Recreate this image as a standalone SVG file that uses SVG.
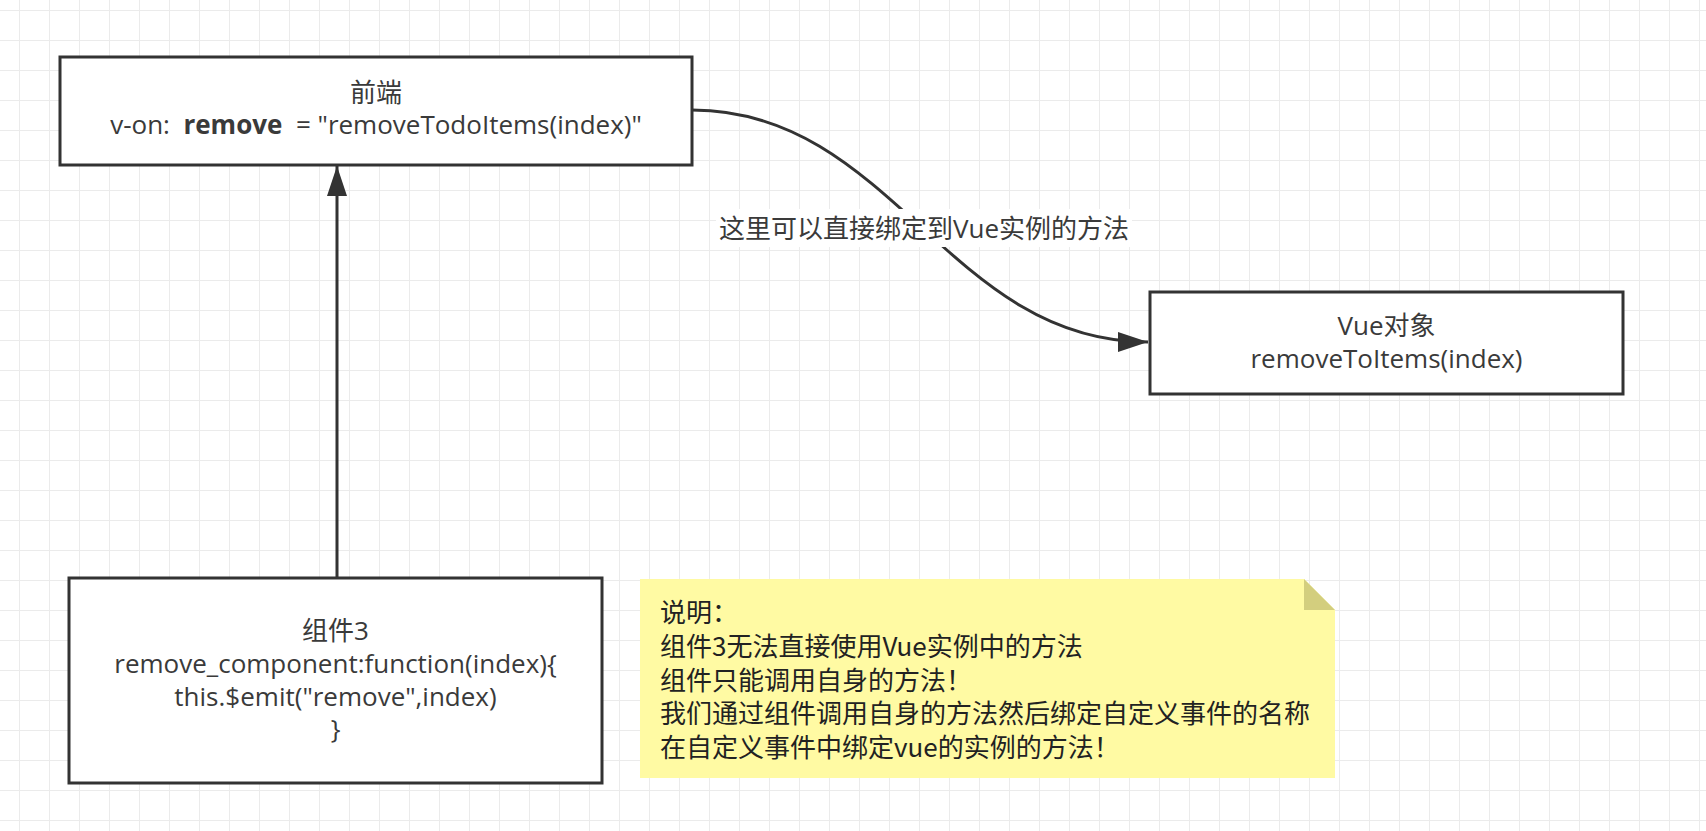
<svg xmlns="http://www.w3.org/2000/svg" width="1706" height="831" viewBox="0 0 1706 831">
<defs>
<pattern id="grid" x="19" y="10" width="30" height="30" patternUnits="userSpaceOnUse">
<path d="M0,0 H30 M0,0 V30" fill="none" stroke="#ebebeb" stroke-width="2"/>
</pattern>
<marker id="arr" markerUnits="userSpaceOnUse" viewBox="0 0 30 20" refX="30" refY="10" markerWidth="30" markerHeight="20" orient="auto">
<path d="M0,0 L30,10 L0,20 z" fill="#333"/>
</marker>
<style>
.box{fill:#fff;stroke:#333;stroke-width:3}
.t{font-family:"Open Sans","Noto Sans CJK SC",sans-serif;font-size:26px;fill:#3a3a3a;text-anchor:middle;white-space:pre}
.n{font-family:"Noto Sans CJK SC",sans-serif;font-size:26px;fill:#222}
.edge{fill:none;stroke:#333;stroke-width:3}
</style>
</defs>
<rect width="1706" height="831" fill="#fff"/>
<rect width="1706" height="831" fill="url(#grid)"/>
<g id="connectors">
<path class="edge" d="M337,578 V166" marker-end="url(#arr)"/>
<path class="edge" d="M692,110 C892,110 948,342 1148,342" marker-end="url(#arr)"/>
<rect x="716" y="209" width="416" height="38" fill="#fff"/>
<text class="t" x="924" y="238">这里可以直接绑定到Vue实例的方法</text>
</g>
<g id="frontend">
<rect class="box" x="60" y="57" width="632" height="108"/>
<text class="t" x="376" y="102">前端</text>
<text class="t" x="376" y="134">v-on:  <tspan font-weight="bold">remove</tspan>  = "removeTodoItems(index)"</text>
</g>
<g id="vue">
<rect class="box" x="1150" y="292" width="473" height="102"/>
<text class="t" x="1386.5" y="335">Vue对象</text>
<text class="t" x="1386.5" y="368">removeToItems(index)</text>
</g>
<g id="component3">
<rect class="box" x="69" y="578" width="533" height="205"/>
<text class="t" x="335.5" y="640">组件3</text>
<text class="t" x="335.5" y="673">remove_component:function(index){</text>
<text class="t" x="335.5" y="706">this.$emit("remove",index)</text>
<text class="t" x="335.5" y="738">}</text>
</g>
<g id="note">
<path d="M640,579 H1304 L1335,610 V778 H640 z" fill="#fffaa3"/>
<path d="M1304,579 L1335,610 H1304 z" fill="#d3ce7e"/>
<text class="n" x="660" y="622">说明：</text>
<text class="n" x="660" y="656">组件3无法直接使用Vue实例中的方法</text>
<text class="n" x="660" y="690">组件只能调用自身的方法！</text>
<text class="n" x="660" y="723">我们通过组件调用自身的方法然后绑定自定义事件的名称</text>
<text class="n" x="660" y="757">在自定义事件中绑定vue的实例的方法！</text>
</g>
</svg>
